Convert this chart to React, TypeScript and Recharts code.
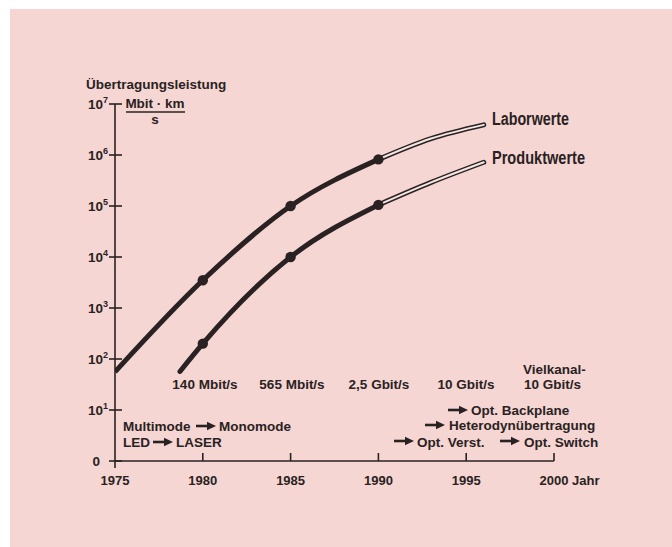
import React from 'react';
import { LineChart, Line, XAxis, YAxis } from 'recharts';

// Übertragungsleistung (Mbit·km/s)
const laborSolid = [
  { year: 1975, value: 56 },
  { year: 1980, value: 3500 },
  { year: 1985, value: 100000 },
  { year: 1990, value: 820000 },
];
const laborTrend = [
  { year: 1990, value: 820000 },
  { year: 1993, value: 2100000 },
  { year: 1996, value: 3900000 },
];
const produktSolid = [
  { year: 1978.7, value: 57 },
  { year: 1980, value: 200 },
  { year: 1985, value: 10000 },
  { year: 1990, value: 105000 },
];
const produktTrend = [
  { year: 1990, value: 105000 },
  { year: 1993, value: 290000 },
  { year: 1996, value: 720000 },
];

const xTicks = [1975, 1980, 1985, 1990, 1995, 2000];
const xTickLabels = ['1975', '1980', '1985', '1990', '1995', '2000 Jahr'];
const yTicks = [1, 10, 100, 1000, 10000, 100000, 1000000, 10000000];
const yTickExponents = ['0', '1', '2', '3', '4', '5', '6', '7'];

const INK = '#2a2222';
const PINK = '#f5d6d3';
const FONT = "'Liberation Sans', Arial, sans-serif";

const YTick = (props: any) => {
  const { x, y, index } = props;
  const exp = yTickExponents[index];
  return (
    <g>
      <line x1={x - 6} x2={x + 7} y1={y} y2={y} stroke={INK} strokeWidth={1.6} />
      {exp === '0' ? (
        <text x={x - 15} y={y + 5} textAnchor="end" fontFamily={FONT} fontWeight="bold" fontSize={13.5} fill={INK}>
          0
        </text>
      ) : (
        <text x={x - 7} y={y + 5} textAnchor="end" fontFamily={FONT} fontWeight="bold" fontSize={13.5} fill={INK}>
          <tspan>10</tspan>
          <tspan dy={-6} fontSize={9}>{exp}</tspan>
        </text>
      )}
    </g>
  );
};

const XTick = (props: any) => {
  const { x, y, index } = props;
  const last = index === xTicks.length - 1;
  return (
    <g>
      <line x1={x} x2={x} y1={index === 0 ? y + 7 : y - 8} y2={y} stroke={INK} strokeWidth={1.6} />
      <text
        x={last ? x - 14.5 : x}
        y={y + 24}
        textAnchor={last ? 'start' : 'middle'}
        fontFamily={FONT}
        fontWeight="bold"
        fontSize={13}
        fill={INK}
      >
        {xTickLabels[index]}
      </text>
    </g>
  );
};

const dotAfterFirst = (props: any) => {
  const { cx, cy, index } = props;
  if (index === 0) return <g key={`n-${index}`} />;
  return <circle key={`d-${index}`} cx={cx} cy={cy} r={5.2} fill={INK} />;
};

const Arrow = ({ x, y }: { x: number; y: number }) => (
  <g>
    <line x1={x} x2={x + 13} y1={y} y2={y} stroke={INK} strokeWidth={2.6} />
    <path d={`M${x + 11} ${y - 4.2} L${x + 20} ${y} L${x + 11} ${y + 4.2} Z`} fill={INK} />
  </g>
);

const T = ({ x, y, children, anchor = 'start', size = 13.5 }: any) => (
  <text x={x} y={y} textAnchor={anchor} fontFamily={FONT} fontWeight="bold" fontSize={size} fill={INK}>
    {children}
  </text>
);

export default function App() {
  return (
    <div style={{ position: 'absolute', left: 0, top: 0, width: 672, height: 547, background: '#ffffff', overflow: 'hidden' }}>
      <div style={{ position: 'absolute', left: 10, top: 9, right: 0, bottom: 0, background: PINK }} />
      <div style={{ position: 'absolute', left: 0, top: 0 }}>
        <LineChart width={672} height={547} margin={{ top: 104, right: 118, bottom: 46, left: 0 }}>
          <XAxis
            type="number"
            dataKey="year"
            domain={[1975, 2000]}
            ticks={xTicks}
            height={40}
            tickSize={0}
            tickMargin={0}
            tickLine={false}
            axisLine={{ stroke: INK, strokeWidth: 1.6 }}
            tick={<XTick />}
            interval={0}
            allowDataOverflow
          />
          <YAxis
            type="number"
            scale="log"
            domain={[1, 10000000]}
            ticks={yTicks}
            width={115}
            tickSize={0}
            tickMargin={0}
            tickLine={false}
            axisLine={{ stroke: INK, strokeWidth: 1.6 }}
            tick={<YTick />}
            interval={0}
            allowDataOverflow
          />
          <Line data={laborTrend} dataKey="value" type="monotone" stroke={INK} strokeWidth={5} strokeLinecap="round" dot={false} isAnimationActive={false} />
          <Line data={laborTrend} dataKey="value" type="monotone" stroke="#f4e6e2" strokeWidth={2} strokeLinecap="round" dot={false} isAnimationActive={false} />
          <Line data={produktTrend} dataKey="value" type="monotone" stroke={INK} strokeWidth={5} strokeLinecap="round" dot={false} isAnimationActive={false} />
          <Line data={produktTrend} dataKey="value" type="monotone" stroke="#f4e6e2" strokeWidth={2} strokeLinecap="round" dot={false} isAnimationActive={false} />
          <Line data={laborSolid} dataKey="value" type="monotone" stroke={INK} strokeWidth={5} dot={dotAfterFirst} isAnimationActive={false} />
          <Line data={produktSolid} dataKey="value" type="monotone" stroke={INK} strokeWidth={5} strokeLinecap="round" dot={dotAfterFirst} isAnimationActive={false} />
        </LineChart>
      </div>
      <svg width={672} height={547} style={{ position: 'absolute', left: 0, top: 0, pointerEvents: 'none' }}>
        <T x={86} y={89}>Übertragungsleistung</T>
        <T x={155} y={108} anchor="middle">Mbit · km</T>
        <line x1={126} x2={185} y1={112} y2={112} stroke={INK} strokeWidth={1.5} />
        <T x={155} y={124} anchor="middle">s</T>

        <text x={492} y={125} fontFamily="'Liberation Sans Narrow', 'Arial Narrow', 'Liberation Sans', sans-serif" fontWeight="bold" fontSize={18} fill={INK} textLength={77} lengthAdjust="spacingAndGlyphs">Laborwerte</text>
        <text x={492} y={164} fontFamily="'Liberation Sans Narrow', 'Arial Narrow', 'Liberation Sans', sans-serif" fontWeight="bold" fontSize={18} fill={INK} textLength={93} lengthAdjust="spacingAndGlyphs">Produktwerte</text>

        <T x={205} y={389} anchor="middle">140 Mbit/s</T>
        <T x={292} y={389} anchor="middle">565 Mbit/s</T>
        <T x={379} y={389} anchor="middle">2,5 Gbit/s</T>
        <T x={466} y={389} anchor="middle">10 Gbit/s</T>
        <T x={523} y={374}>Vielkanal-</T>
        <T x={524} y={389}>10 Gbit/s</T>

        <T x={123} y={431}>Multimode</T>
        <Arrow x={196} y={426} />
        <T x={219} y={431}>Monomode</T>
        <T x={123} y={447}>LED</T>
        <Arrow x={153} y={442} />
        <T x={176} y={447}>LASER</T>

        <Arrow x={448} y={410} />
        <T x={471} y={415}>Opt. Backplane</T>
        <Arrow x={425} y={425} />
        <T x={449} y={430}>Heterodynübertragung</T>
        <Arrow x={394} y={441} />
        <T x={417} y={446.5}>Opt. Verst.</T>
        <Arrow x={500} y={441} />
        <T x={524} y={446.5}>Opt. Switch</T>
      </svg>
    </div>
  );
}
